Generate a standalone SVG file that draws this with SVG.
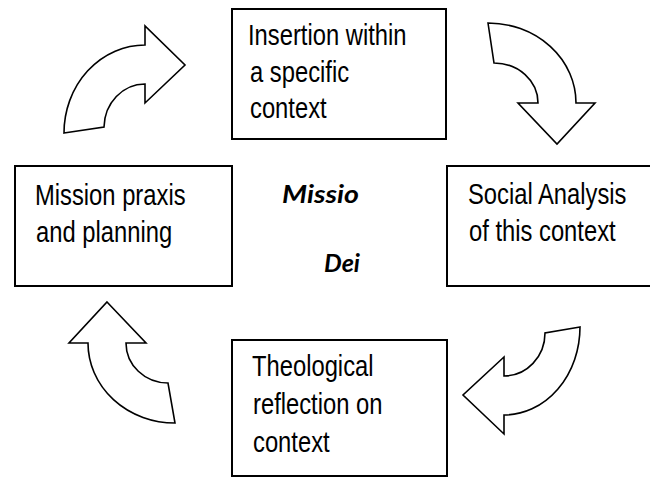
<svg xmlns="http://www.w3.org/2000/svg" width="650" height="478" viewBox="0 0 650 478">
<style>
.box{fill:#fff;stroke:#000;stroke-width:2}
.arrow{fill:#fff;stroke:#000;stroke-width:1.6;stroke-linejoin:miter}
.lbl{font-family:"Liberation Sans",Arial,sans-serif;font-size:29px;fill:#000}
.md{font-family:Lato,"Open Sans",sans-serif;font-size:25px;font-weight:bold;font-style:italic;fill:#000}
</style>
<rect width="650" height="478" fill="#fff"/>
<g id="connectors">
<path class="arrow" d="M64,133 L104,127 A41,44 0 0 1 145,84 L145,103 L185,65 L145,26 L145,45 A81,88 0 0 0 64,133 Z"/>
<path class="arrow" d="M488,23 L494,63 A44,40 0 0 1 538,103 L518,103 L557,144 L595,103 L576,103 A88,80 0 0 0 488,23 Z"/>
<path class="arrow" d="M580,327 L545,333 A41,43 0 0 1 504,376 L504,357 L463,395 L504,434 L504,415 A76,88 0 0 0 580,327 Z"/>
<path class="arrow" d="M107,302 L146,343 L126,343 A42,40 0 0 0 168,383 L175,423 A87,80 0 0 1 88,343 L69,343 Z"/>
</g>
<g id="node-insertion">
<rect class="box" x="232" y="9" width="214" height="130"/>
<text class="lbl" transform="translate(248,45) scale(0.82,1)">Insertion within</text>
<text class="lbl" transform="translate(250,82) scale(0.82,1)">a specific</text>
<text class="lbl" transform="translate(250,118) scale(0.82,1)">context</text>
</g>
<g id="node-social">
<rect class="box" x="447" y="166" width="210" height="120"/>
<text class="lbl" transform="translate(468,204) scale(0.82,1)">Social Analysis</text>
<text class="lbl" transform="translate(469,241) scale(0.82,1)">of this context</text>
</g>
<g id="node-theological">
<rect class="box" x="232" y="340" width="215" height="136"/>
<text class="lbl" transform="translate(252,376) scale(0.82,1)">Theological</text>
<text class="lbl" transform="translate(253,414) scale(0.82,1)">reflection on</text>
<text class="lbl" transform="translate(253,452) scale(0.82,1)">context</text>
</g>
<g id="node-mission">
<rect class="box" x="15" y="166" width="217" height="120"/>
<text class="lbl" transform="translate(35,205) scale(0.82,1)">Mission praxis</text>
<text class="lbl" transform="translate(36,242) scale(0.82,1)">and planning</text>
</g>
<g id="center-label">
<text class="md" x="282" y="203" textLength="77" lengthAdjust="spacingAndGlyphs">Missio</text>
<text class="md" x="324" y="272" textLength="36" lengthAdjust="spacingAndGlyphs">Dei</text>
</g>
</svg>
